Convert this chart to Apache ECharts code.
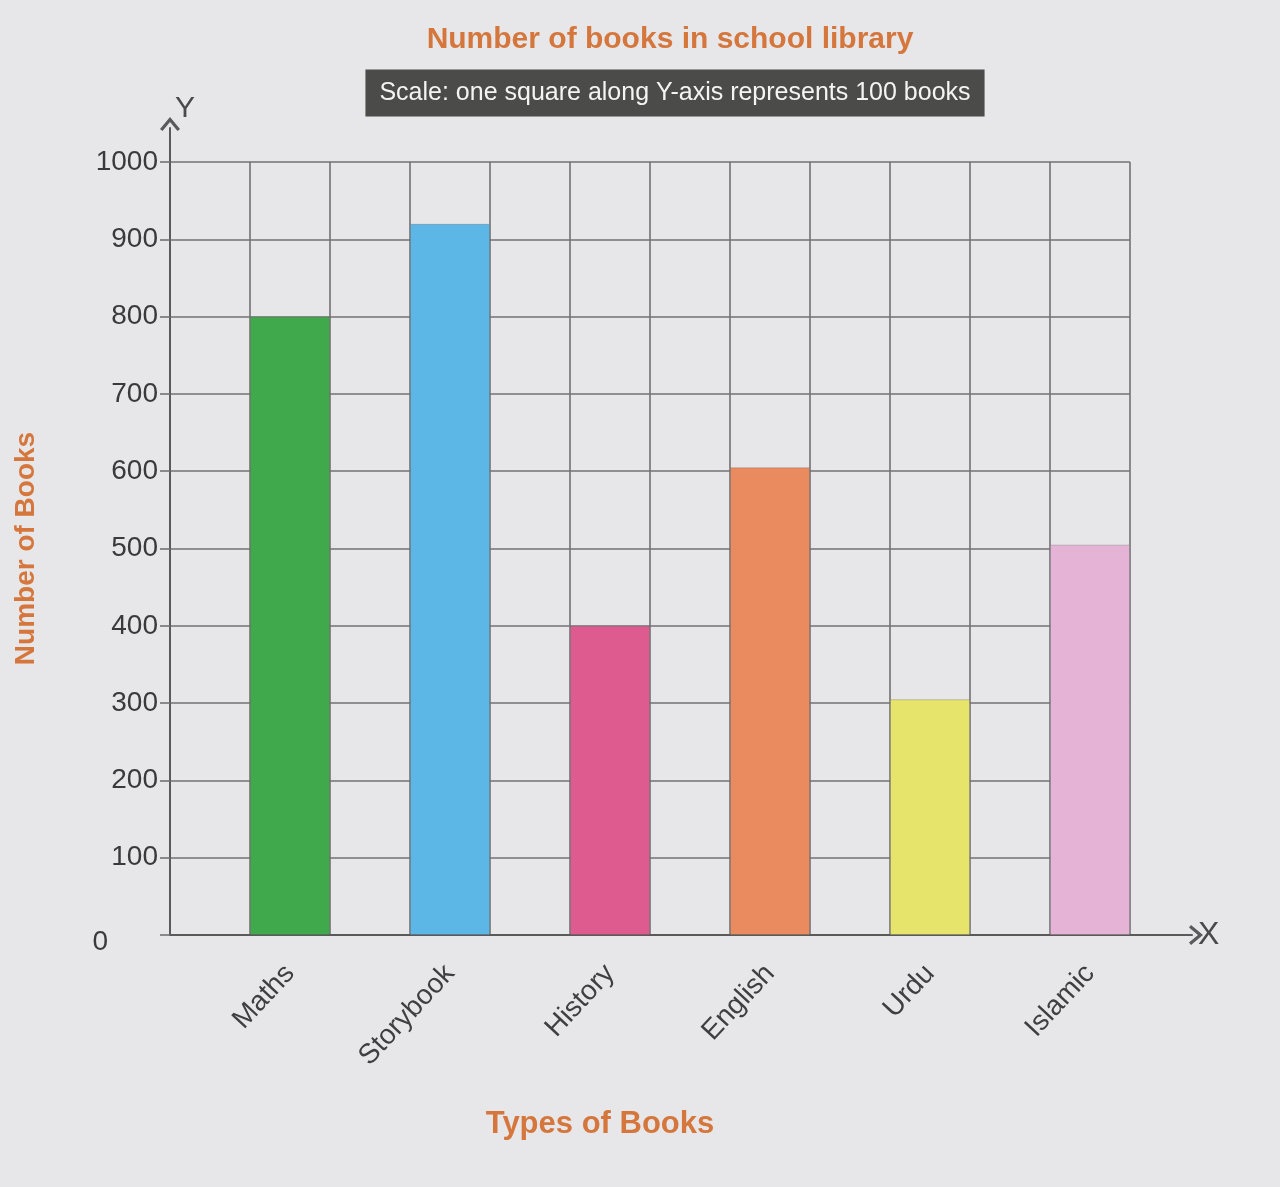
<!doctype html>
<html lang="en">
<head>
  <meta charset="utf-8" />
  <title>Number of books in school library</title>
  <style>
    html,body{margin:0;padding:0;background:#e7e7e9}
    #chart{width:1280px;height:1187px}
  </style>
  <script src="https://cdn.jsdelivr.net/npm/echarts@6/dist/echarts.min.js"></script>
</head>
<body>
  <div id="chart"></div>
  <script>
    // data
    const categories = ['Maths', 'Storybook', 'History', 'English', 'Urdu', 'Islamic'];
    const bookCounts = [800, 920, 400, 605, 305, 505];
    const barColors = ['#3fa94b', '#5cb7e7', '#de5b8f', '#e98b5f', '#e7e46c', '#e5b3d5'];
    const yTicks = [0, 100, 200, 300, 400, 500, 600, 700, 800, 900, 1000];

    const FONT = '"Liberation Sans", Arial, sans-serif';
    const ORANGE = '#d5773d';
    const GRID_LINE = '#727274';

    // every category takes two grid squares, the bar sits in the second one
    const slots = categories.flatMap(c => ['', c]);
    const slotData = [];
    bookCounts.forEach((v, i) => {
      slotData.push(null);
      slotData.push({ value: v, itemStyle: { color: barColors[i] } });
    });

    // chevron used as the arrow head on both axes
    const chevron = 'path://M0,12 L10,0 L20,12 L17.5,14 L10,5 L2.5,14 Z';

    const chart = echarts.init(document.getElementById('chart'), null, { renderer: 'canvas' });
    const option = {
      backgroundColor: '#e7e7e9',
      animation: false,
      grid: [
        { left: 170, right: 150, top: 162, bottom: 252 },
        { left: 170, right: 88, top: 128, bottom: 252 }
      ],
      xAxis: [
        {
          gridIndex: 0, type: 'category', data: slots, boundaryGap: true,
          axisLine: { show: false },
          axisTick: { show: false },
          axisLabel: { interval: 0, rotate: 47, margin: 34, fontSize: 28, color: '#3f3f3f', fontFamily: FONT },
          splitLine: { show: true, interval: 0, lineStyle: { color: GRID_LINE, width: 1.6 } }
        },
        {
          gridIndex: 1, type: 'value', min: 0, max: 1,
          axisLine: { show: true, symbol: ['none', chevron], symbolSize: [20, 14], symbolOffset: [0, 4], lineStyle: { color: '#5a5a5a', width: 2 } },
          axisTick: { show: false }, axisLabel: { show: false }, splitLine: { show: false },
          name: 'X', nameGap: 6, nameTextStyle: { fontSize: 32, color: '#4a4a4a', fontFamily: FONT, verticalAlign: 'middle', padding: [8, 0, 0, 0] }
        }
      ],
      yAxis: [
        {
          gridIndex: 0, type: 'value', min: 0, max: 1000, interval: 100,
          axisLine: { show: false },
          axisTick: { show: true, length: 10, lineStyle: { color: GRID_LINE, width: 1.6 } },
          axisLabel: {
            margin: 12, fontSize: 28, color: '#3a3a3a', fontFamily: FONT,
            formatter: v => v === 0 ? '{z|0}' : String(v),
            rich: { z: { fontSize: 28, color: '#3a3a3a', fontFamily: FONT, padding: [14, 50, 0, 0] } }
          },
          splitLine: { show: true, lineStyle: { color: GRID_LINE, width: 1.6 } },
          name: 'Number of Books', nameLocation: 'middle', nameGap: 130,
          nameTextStyle: { fontSize: 28, fontWeight: 'bold', color: ORANGE, fontFamily: FONT, padding: [0, 0, 0, 0] }
        },
        {
          gridIndex: 1, type: 'value', min: 0, max: 1,
          axisLine: { show: true, symbol: ['none', chevron], symbolSize: [20, 14], symbolOffset: [0, 4], lineStyle: { color: '#5a5a5a', width: 2 } },
          axisTick: { show: false }, axisLabel: { show: false }, splitLine: { show: false },
          name: 'Y', nameGap: 4, nameTextStyle: { fontSize: 30, color: '#4a4a4a', fontFamily: FONT, padding: [0, 0, 0, 30] }
        }
      ],
      series: [
        {
          name: 'Books', type: 'bar', xAxisIndex: 0, yAxisIndex: 0,
          barCategoryGap: '0%', data: slotData,
          itemStyle: { borderColor: 'rgba(90,90,90,0.3)', borderWidth: 1 }
        }
      ],
      graphic: [
        {
          type: 'text', x: 670, y: 40,
          style: { text: 'Number of books in school library', font: 'bold 30px ' + FONT, fill: ORANGE, align: 'center', verticalAlign: 'middle' }
        },
        {
          type: 'text', x: 675, y: 93,
          style: {
            text: 'Scale: one square along Y-axis represents 100 books', font: '25px ' + FONT, fill: '#f4f4f4',
            align: 'center', verticalAlign: 'middle', backgroundColor: '#4b4b49', padding: [11, 14, 11, 14]
          }
        },
        {
          type: 'text', x: 600, y: 1124,
          style: { text: 'Types of Books', font: 'bold 31px ' + FONT, fill: ORANGE, align: 'center', verticalAlign: 'middle' }
        }
      ]
    };
    chart.setOption(option);
  </script>
</body>
</html>
